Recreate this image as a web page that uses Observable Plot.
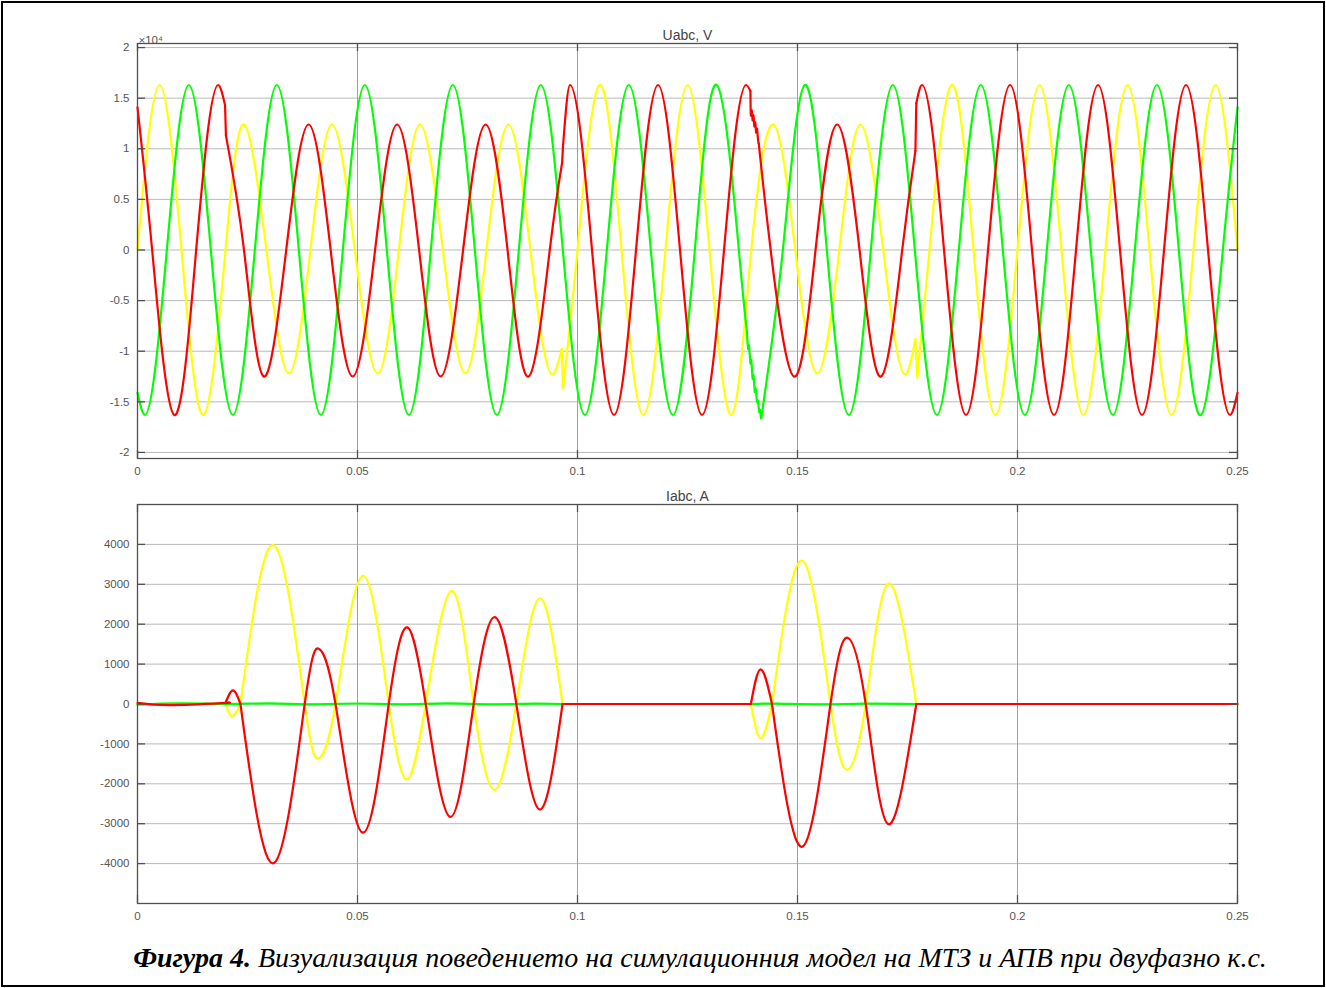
<!DOCTYPE html>
<html><head><meta charset="utf-8">
<script src="https://cdn.jsdelivr.net/npm/d3@7"></script>
<script src="https://cdn.jsdelivr.net/npm/@observablehq/plot@0.6"></script>
<style>
html,body{margin:0;padding:0;background:#fff;width:1326px;height:988px;overflow:hidden}
#frame{position:absolute;left:1px;top:1px;width:1320px;height:982px;border:2px solid #000;z-index:10;pointer-events:none}
#top{position:absolute;left:0;top:0}
#bot{position:absolute;left:0;top:480px}
#cap{position:absolute;left:0;top:942px;width:1400px;text-align:center;font-family:"Liberation Serif","Times New Roman",serif;font-style:italic;font-size:28px;color:#000;white-space:nowrap}
</style></head><body>
<div id="top"></div><div id="bot"></div>
<div id="cap"><b>Фигура 4.</b> Визуализация поведението на симулационния модел на МТЗ и АПВ при двуфазно к.с.</div>
<div id="frame"></div>
<script>
// ---- tick labels ----
const xTicks = [0, 0.05, 0.1, 0.15, 0.2, 0.25];
const uTicks = [-2, -1.5, -1, -0.5, 0, 0.5, 1, 1.5, 2];          // ×10^4 V
const iTicks = [-4000, -3000, -2000, -1000, 0, 1000, 2000, 3000, 4000];
const uTitle = "Uabc, V";
const iTitle = "Iabc, A";
const uExponent = "×10⁴";

// ---- voltages (×10^4 V), [t s, value], split into segments at jumps ----
const uYellow = [
  [[0,0],[0.005,1.63],[0.01,0],[0.015,-1.63],[0.02,0],[0.0242,1.24],[0.0293,0],[0.0344,-1.22],[0.0393,0],[0.0442,1.24],[0.0494,0],[0.0546,-1.22],[0.0594,0],[0.0642,1.24],[0.0694,0],[0.0745,-1.22],[0.0793,0],[0.0843,1.24],[0.0893,0]],
  [[0.0893,0],[0.0943,-1.23],[0.0964,-0.98]],
  [[0.0964,-0.98],[0.0967,-1.37]],
  [[0.0967,-1.37],[0.1,0],[0.105,1.63],[0.11,0],[0.115,-1.63],[0.12,0],[0.125,1.63],[0.13,0],[0.135,-1.63],[0.1395,0],[0.1445,1.24],[0.1495,0],[0.1545,-1.22],[0.1595,0],[0.1643,1.24],[0.1695,0]],
  [[0.1695,0],[0.1745,-1.23],[0.1768,-0.88]],
  [[0.1768,-0.88],[0.1772,-1.26]],
  [[0.1772,-1.26],[0.18,0],[0.185,1.63],[0.19,0],[0.195,-1.63],[0.2,0],[0.205,1.63],[0.21,0],[0.215,-1.63],[0.22,0],[0.225,1.63],[0.23,0],[0.235,-1.63],[0.24,0],[0.245,1.63],[0.25,0]]
];
const uGreen = [
  [[0,-1.41],[0.00167,-1.63],[0.00667,0]],
  [[0.00667,0],[0.01167,1.63],[0.01667,0],[0.02167,-1.63],[0.02667,0],[0.03167,1.63],[0.03667,0],[0.04167,-1.63],[0.04667,0],[0.05167,1.63],[0.05667,0],[0.06167,-1.63],[0.06667,0],[0.07167,1.63],[0.07667,0],[0.08167,-1.63],[0.08667,0],[0.09167,1.63],[0.09667,0],[0.10167,-1.63],[0.10667,0],[0.11167,1.63],[0.11667,0],[0.12167,-1.63],[0.12667,0],[0.13167,1.63],[0.13667,0],[0.1385,-0.81]],
  [[0.1385,-0.81],[0.1388,-0.98],[0.139,-0.95],[0.1393,-1.12],[0.1395,-1.09],[0.1398,-1.27],[0.14,-1.24],[0.1403,-1.4],[0.1405,-1.37],[0.1408,-1.5],[0.141,-1.49],[0.1413,-1.6],[0.1415,-1.58],[0.1417,-1.66],[0.1419,-1.62]],
  [[0.1419,-1.62],[0.14667,0],[0.15167,1.63],[0.15667,0],[0.16167,-1.63],[0.16667,0],[0.17167,1.63],[0.17667,0],[0.18167,-1.63],[0.18667,0],[0.19167,1.63],[0.19667,0],[0.20167,-1.63],[0.20667,0],[0.21167,1.63],[0.21667,0],[0.22167,-1.63],[0.22667,0],[0.23167,1.63],[0.23667,0],[0.24167,-1.63],[0.24667,0],[0.25,1.41]]
];
const uRed = [
  [[0,1.41],[0.00333,0],[0.00833,-1.63],[0.01333,0]],
  [[0.01333,0],[0.01833,1.63],[0.0199,1.43]],
  [[0.0199,1.43],[0.0201,1.13]],
  [[0.0201,1.13],[0.0242,0],[0.0287,-1.25],[0.0338,0],[0.0389,1.24],[0.0439,0],[0.0489,-1.25],[0.054,0],[0.059,1.24],[0.064,0],[0.0689,-1.25],[0.074,0],[0.0791,1.24],[0.0841,0],[0.0889,-1.25],[0.0937,0],[0.0965,0.86]],
  [[0.0965,0.86],[0.0967,1.02]],
  [[0.0967,1.02],[0.0983,1.63],[0.1033,0]],
  [[0.1033,0],[0.1083,-1.63],[0.1133,0],[0.1183,1.63],[0.1233,0],[0.1283,-1.63],[0.1333,0]],
  [[0.1333,0],[0.1383,1.63],[0.1393,1.57]],
  [[0.1393,1.57],[0.1394,1.33],[0.1396,1.38],[0.1398,1.28],[0.14,1.33],[0.1402,1.22],[0.1404,1.26],[0.1406,1.16],[0.1408,1.2],[0.141,1.1],[0.1412,1.05]],
  [[0.1412,1.05],[0.1439,0],[0.1492,-1.25],[0.1541,0],[0.159,1.24],[0.1641,0],[0.169,-1.25],[0.1738,0],[0.1768,0.98]],
  [[0.1768,0.98],[0.177,1.45]],
  [[0.177,1.45],[0.1783,1.63],[0.1833,0]],
  [[0.1833,0],[0.1883,-1.63],[0.1933,0],[0.1983,1.63],[0.2033,0],[0.2083,-1.63],[0.2133,0],[0.2183,1.63],[0.2233,0],[0.2283,-1.63],[0.2333,0],[0.2383,1.63],[0.2433,0]],
  [[0.2433,0],[0.2483,-1.63],[0.25,-1.41]]
];

// ---- currents (A) ----
const iYellow = [
  [[0,-10],[0.01,10],[0.02,0]],
  [[0.02,0],[0.0215,-310],[0.0234,0]],
  [[0.0234,0],[0.0311,3970],[0.038,0],[0.0412,-1360],[0.045,0],[0.0512,3215],[0.0571,0],[0.0613,-1890],[0.0655,0],[0.0714,2835],[0.0764,0],[0.0812,-2150],[0.0861,0],[0.0914,2650],[0.0966,0]],
  [[0.0966,0],[0.1394,0]],
  [[0.1394,0],[0.1416,-860],[0.1442,0]],
  [[0.1442,0],[0.1512,3585],[0.1575,0],[0.1614,-1645],[0.1655,0],[0.1706,3015],[0.177,0]],
  [[0.177,0],[0.25,0]]
];
const iGreen = [
  [[0,-15],[0.01,15],[0.02,0],[0.03,15],[0.04,-10],[0.05,12],[0.06,-10],[0.07,15],[0.08,-8],[0.09,10],[0.0966,0]],
  [[0.0966,0],[0.1394,0]],
  [[0.1394,0],[0.145,10],[0.155,-10],[0.165,10],[0.177,0]],
  [[0.177,0],[0.25,0]]
];
const iRed = [
  [[0,30],[0.0075,-28],[0.0195,25],[0.02,25]],
  [[0.02,25],[0.0217,340],[0.0234,0]],
  [[0.0234,0],[0.0311,-3980],[0.038,0],[0.0412,1385],[0.045,0],[0.0512,-3225],[0.0571,0],[0.0613,1920],[0.0655,0],[0.0711,-2830],[0.0764,0],[0.0812,2175],[0.0861,0],[0.0914,-2645],[0.0966,0]],
  [[0.0966,0],[0.1394,0]],
  [[0.1394,0],[0.1416,870],[0.1442,0]],
  [[0.1442,0],[0.1512,-3570],[0.1575,0],[0.1614,1660],[0.1655,0],[0.1706,-3010],[0.177,0]],
  [[0.177,0],[0.25,0]]
];

const COLORS = {yellow: "#ffff00", green: "#00ff00", red: "#ff0000"};

function rows(segs, name, pick) {
  const out = [];
  segs.forEach((s, i) => { if (pick(s)) s.forEach(([t, v]) => out.push({t, v, seg: name + i})); });
  return out;
}

function panel({series, yDomain, yTicks, title, exponent, height, marginTop, marginBottom}) {
  const W = 1326, mL = 137, mR = 89;
  const innerH = height - marginTop - marginBottom;
  const innerW = W - mL - mR;
  const box = "#505050";
  const marks = [
    Plot.gridY(yTicks, {stroke: "#b9b9b9", strokeOpacity: 1, strokeWidth: 1}),
    Plot.gridX(xTicks, {stroke: "#a0a0a0", strokeOpacity: 1, strokeWidth: 1}),
  ];
  for (const [segs, name] of series) {
    // short pieces around the switching instants: monotone; long runs: natural spline
    marks.push(Plot.line(rows(segs, name, s => s.length <= 3), {x: "t", y: "v", z: "seg", stroke: COLORS[name], strokeWidth: 2.2, curve: "monotone-x"}));
    marks.push(Plot.line(rows(segs, name, s => s.length > 3), {x: "t", y: "v", z: "seg", stroke: COLORS[name], strokeWidth: 2.2, curve: "natural"}));
  }
  marks.push(
    Plot.frame({stroke: box, strokeWidth: 1.3}),
    Plot.tickX(xTicks, {x: d => d, stroke: box, strokeWidth: 1.3, insetTop: innerH - 8}),
    Plot.tickX(xTicks, {x: d => d, stroke: box, strokeWidth: 1.3, insetBottom: innerH - 8}),
    Plot.tickY(yTicks, {y: d => d, stroke: box, strokeWidth: 1.3, insetRight: innerW - 8}),
    Plot.tickY(yTicks, {y: d => d, stroke: box, strokeWidth: 1.3, insetLeft: innerW - 8}),
    Plot.axisX(xTicks, {tickSize: 0, tickPadding: 8, tickFormat: d => String(d), label: null, fontSize: 11.5, fill: "#555"}),
    Plot.axisY(yTicks, {tickSize: 0, tickPadding: 8, tickFormat: d => String(d), label: null, fontSize: 11.5, fill: "#555"}),
    Plot.text([title], {frameAnchor: "top", dy: -13, fontSize: 14, fill: "#444"})
  );
  if (exponent) marks.push(Plot.text([exponent], {frameAnchor: "top-left", dy: -8, dx: 1, textAnchor: "start", fontSize: 11.5, fill: "#555"}));
  return Plot.plot({
    width: W, height, marginLeft: mL, marginRight: mR, marginTop, marginBottom,
    x: {domain: [0, 0.25]},
    y: {domain: yDomain},
    style: {fontFamily: "'Liberation Sans', Arial, sans-serif", fontSize: "11.5px", color: "#555", background: "transparent"},
    marks
  });
}

document.getElementById("top").append(panel({
  series: [[uYellow, "yellow"], [uGreen, "green"], [uRed, "red"]],
  yDomain: [-2.06, 2.04], yTicks: uTicks, title: uTitle, exponent: uExponent,
  height: 480, marginTop: 43, marginBottom: 22
}));
document.getElementById("bot").append(panel({
  series: [[iYellow, "yellow"], [iGreen, "green"], [iRed, "red"]],
  yDomain: [-5000, 5000], yTicks: iTicks, title: iTitle, exponent: null,
  height: 450, marginTop: 24, marginBottom: 27
}));
</script>
</body></html>
